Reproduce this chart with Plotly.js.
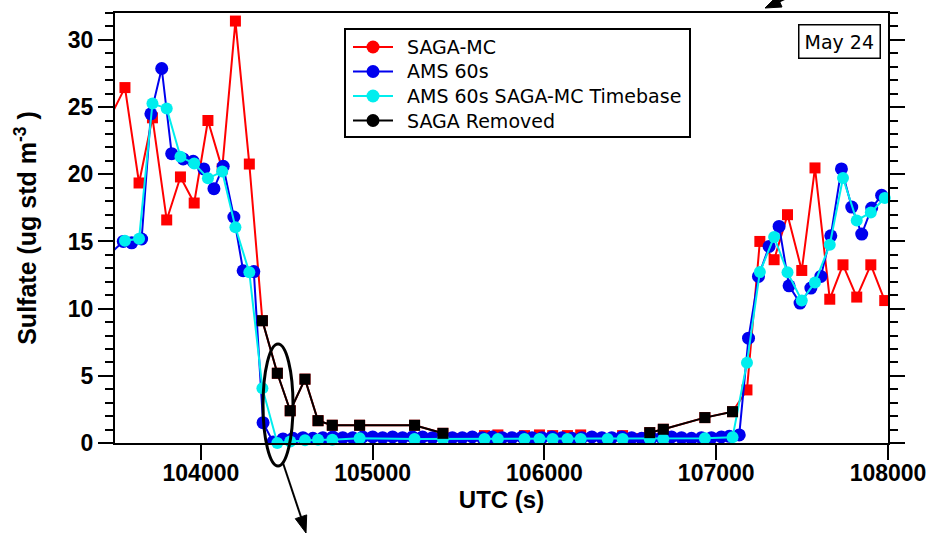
<!DOCTYPE html>
<html>
<head>
<meta charset="utf-8">
<script src="https://cdn.plot.ly/plotly-3.0.1.min.js"></script>
<style>html,body{margin:0;padding:0;background:#fff}#chart{width:932px;height:534px}</style>
</head>
<body>
<div id="chart"></div>
<script>
// SAGA-MC timebase (UTC s)
var sagaTime = [103478, 103558, 103640, 103718, 103801, 103881, 103961, 104041, 104124, 104201, 104282,
  104358, 104445, 104520, 104606, 104682, 104765, 104924, 105244, 105409,
  105651, 105729, 105884, 105971, 106048, 106134, 106211, 106368, 106455,
  106613, 106692, 106934, 107095,
  107179, 107254, 107337, 107415, 107498, 107575, 107661, 107738, 107818, 107900, 107981];
var sagaMC = [24.4, 26.45, 19.35, 24.2, 16.6, 19.8, 17.86, 24.0, 20.4, 31.4, 20.76,
  9.1, 5.19, 2.4, 4.75, 1.66, 1.32, 1.32, 1.32, 0.72,
  0.55, 0.6, 0.55, 0.6, 0.55, 0.55, 0.6, 0.1, 0.55,
  0.77, 1.02, 1.89, 2.33,
  3.95, 15.0, 13.64, 16.99, 12.84, 20.47, 10.7, 13.26, 10.86, 13.26, 10.6];
var amsSagaTB = [null, 15.05, 15.2, 25.26, 24.9, 21.3, 20.8, 19.7, 20.2, 16.05, 12.7,
  4.08, 0.0, 0.12, 0.2, 0.25, 0.25, 0.35, 0.3, 0.3,
  0.3, 0.3, 0.3, 0.3, 0.3, 0.3, 0.3, 0.3, 0.3,
  0.3, 0.3, 0.35, 0.42,
  5.98, 12.72, 15.33, 12.7, 10.6, 11.95, 14.75, 19.72, 16.56, 17.16, 18.23];

// AMS 60 s timebase
var amsTime = [103490, 103548, 103597, 103655, 103709, 103772, 103830, 103897, 103955, 104017, 104076, 104130,
  104192, 104246, 104308, 104362, 104420,
  104478, 104536, 104594, 104652, 104710, 104768, 104826, 104884, 104942, 105000,
  105058, 105116, 105174, 105232, 105290, 105348, 105406, 105464, 105522, 105580,
  105638, 105696, 105754, 105812, 105870, 105928, 105986, 106044, 106102, 106160,
  106218, 106276, 106334, 106392, 106450, 106508, 106566, 106624, 106682, 106740,
  106798, 106856, 106914, 106972, 107030, 107076,
  107134, 107188, 107246, 107308, 107366, 107424, 107488, 107551, 107609, 107667,
  107729, 107789, 107847, 107905, 107963];
var ams60 = [14.3, 15.0, 14.9, 15.18, 24.5, 27.87, 21.53, 21.14, 20.96, 20.4, 18.93, 20.59,
  16.82, 12.82, 12.76, 1.51, 0.08,
  0.3, 0.35, 0.4, 0.35, 0.4, 0.45, 0.4, 0.4, 0.45, 0.45,
  0.4, 0.45, 0.4, 0.45, 0.45, 0.4, 0.45, 0.4, 0.4, 0.45,
  0.4, 0.45, 0.4, 0.4, 0.45, 0.4, 0.4, 0.45, 0.4, 0.35,
  0.4, 0.45, 0.4, 0.4, 0.45, 0.4, 0.35, 0.4, 0.4, 0.45,
  0.4, 0.35, 0.4, 0.4, 0.45, 0.5,
  0.6, 7.8, 12.4, 14.63, 16.12, 11.7, 10.41, 11.53, 12.4, 15.42,
  20.4, 17.56, 15.55, 17.49, 18.43];

// SAGA removed points
var removedTime = [104358, 104445, 104520, 104606, 104682, 104765, 104924, 105244, 105409, null,
  106613, 106692, 106934, 107095];
var removed = [9.1, 5.19, 2.4, 4.75, 1.66, 1.32, 1.32, 1.32, 0.72, null,
  0.77, 1.02, 1.89, 2.33];

var names = ['SAGA-MC', 'AMS 60s', 'AMS 60s SAGA-MC Timebase', 'SAGA Removed'];
var colors = ['#ff0000', '#0000ee', '#00eeee', '#000000'];

var traces = [
  {x: sagaTime, y: sagaMC, name: names[0], mode: 'lines+markers', showlegend: false, cliponaxis: true,
   line: {color: colors[0], width: 2}, marker: {symbol: 'square', size: 11, color: colors[0]}},
  {x: amsTime, y: ams60, name: names[1], mode: 'lines+markers', showlegend: false, cliponaxis: true,
   line: {color: colors[1], width: 2}, marker: {symbol: 'circle', size: 13, color: colors[1]}},
  {x: sagaTime, y: amsSagaTB, name: names[2], mode: 'lines+markers', showlegend: false, cliponaxis: false,
   line: {color: colors[2], width: 2}, marker: {symbol: 'circle', size: 12, color: colors[2]}},
  {x: removedTime, y: removed, name: names[3], mode: 'lines+markers', showlegend: false, cliponaxis: false,
   line: {color: colors[3], width: 2}, marker: {symbol: 'square', size: 11, color: colors[3]}}
];

// plot-area pixel helpers for decoration placement (plot area: x 115..888, y 13..443)
function px(v) { return (v - 115) / 773; }
function py(v) { return (443 - v) / 430; }
function pathOf(pts) {
  return 'M ' + pts.map(function (p) { return px(p[0]) + ' ' + py(p[1]); }).join(' L ') + ' Z';
}

var shapes = [
  {type: 'circle', xref: 'paper', yref: 'paper', x0: 0.1915, x1: 0.2303, y0: -0.0535, y1: 0.2302,
   line: {color: '#000', width: 3}},
  // arrow below the ellipse
  {type: 'line', xref: 'paper', yref: 'paper', x0: px(283), y0: py(463), x1: px(301), y1: py(517),
   line: {color: '#000', width: 2}},
  {type: 'path', xref: 'paper', yref: 'paper', path: pathOf([[306, 533], [306.7, 514.9], [295.3, 518.7]]),
   fillcolor: '#000', line: {color: '#000', width: 1}},
  // arrow at the top
  {type: 'line', xref: 'paper', yref: 'paper', x0: px(812), y0: py(-13), x1: px(779), y1: py(1.5),
   line: {color: '#000', width: 2}},
  {type: 'path', xref: 'paper', yref: 'paper', path: pathOf([[765, 8], [782, 7], [777.2, -4]]),
   fillcolor: '#000', line: {color: '#000', width: 1}},
  // legend box
  {type: 'rect', xref: 'paper', yref: 'paper', x0: px(345), x1: px(690), y0: py(137), y1: py(29),
   line: {color: '#000', width: 2}, fillcolor: '#fff', layer: 'above'}
];
var annotations = [
  {xref: 'paper', yref: 'paper', x: px(839), y: py(42), xanchor: 'center', yanchor: 'middle',
   text: 'May 24', showarrow: false,
   font: {family: 'DejaVu Sans', size: 19, color: '#000'},
   bordercolor: '#000', borderwidth: 1.5, borderpad: 5, bgcolor: '#fff'}
];
var legendRows = [47, 71.5, 96, 120.5];
for (var i = 0; i < 4; i++) {
  var yy = py(legendRows[i]);
  shapes.push({type: 'line', xref: 'paper', yref: 'paper', x0: px(353), x1: px(393), y0: yy, y1: yy,
    line: {color: colors[i], width: 2}, layer: 'above'});
  shapes.push({type: 'circle', xref: 'paper', yref: 'paper', xsizemode: 'pixel', ysizemode: 'pixel',
    xanchor: px(373), yanchor: yy, x0: -6.5, x1: 6.5, y0: -6.5, y1: 6.5,
    fillcolor: colors[i], line: {width: 0}, layer: 'above'});
  annotations.push({xref: 'paper', yref: 'paper', x: px(405), y: yy, xanchor: 'left', yanchor: 'middle',
    text: names[i], showarrow: false, font: {family: 'DejaVu Sans', size: 19, color: '#000'}});
}

var tickFont = {family: 'Liberation Sans', size: 23, color: '#000', weight: 'bold'};
var titleFont = {family: 'Liberation Sans', size: 24, color: '#000', weight: 'bold'};
var layout = {
  width: 932, height: 534,
  margin: {l: 115, r: 44, t: 13, b: 91},
  paper_bgcolor: '#fff', plot_bgcolor: '#fff',
  showlegend: false,
  xaxis: {
    range: [103500, 108000], dtick: 1000, tick0: 104000, tickformat: 'd',
    showgrid: false, zeroline: false,
    showline: true, linecolor: '#000', linewidth: 2, mirror: true,
    ticks: 'outside', ticklen: 15, tickwidth: 2, tickcolor: '#000',
    ticklabelstandoff: -7,
    tickfont: tickFont,
    title: {text: 'UTC (s)', font: titleFont, standoff: 2}
  },
  yaxis: {
    range: [0, 32], dtick: 5, tick0: 0,
    showgrid: false, zeroline: false,
    showline: true, linecolor: '#000', linewidth: 2, mirror: 'allticks',
    ticks: 'outside', ticklen: 15, tickwidth: 2, tickcolor: '#000',
    minor: {dtick: 1, ticks: 'outside', ticklen: 8, tickwidth: 2, tickcolor: '#000', showgrid: false},
    tickfont: tickFont,
    title: {text: 'Sulfate (ug std m<sup>-3</sup> )', font: {family: 'Liberation Sans', size: 25, color: '#000', weight: 'bold'}, standoff: 24}
  },
  shapes: shapes,
  annotations: annotations
};
Plotly.newPlot('chart', traces, layout, {staticPlot: true, displayModeBar: false});
</script>
</body>
</html>
